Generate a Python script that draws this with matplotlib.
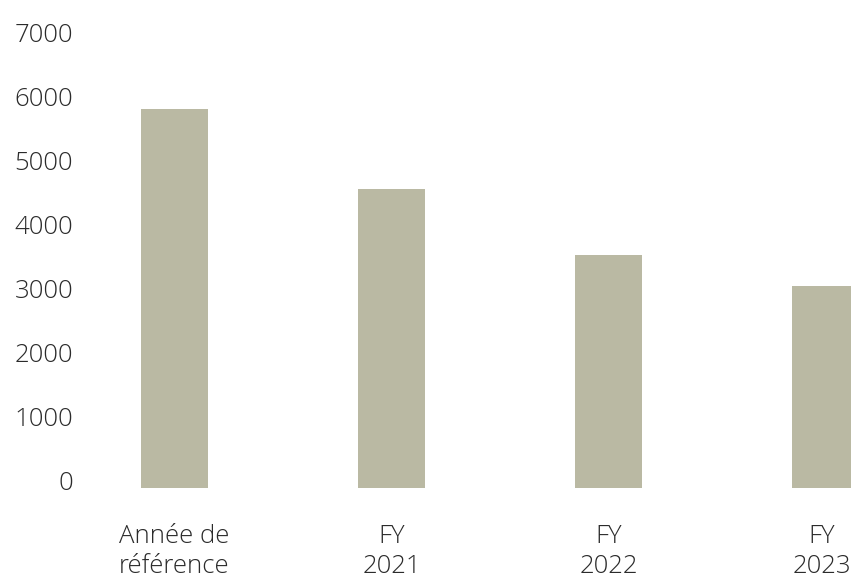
import numpy as np
import matplotlib.pyplot as plt
from matplotlib.transforms import ScaledTranslation

categories = ["Année de\nréférence", "FY\n2021", "FY\n2022", "FY\n2023"]
values = [5910, 4665, 3635, 3150]
yticks = [0, 1000, 2000, 3000, 4000, 5000, 6000, 7000]

plt.rcParams['font.family'] = ['Open Sans', 'DejaVu Sans']

fig = plt.figure(figsize=(8.51, 5.80), dpi=100)
# axes placed in pixel terms: left 80, bottom at y=488, top at y=39
ax = fig.add_axes([80/851, 92/580, 771/851, 448.7/580])

x = np.arange(len(categories))
ax.bar(x, values, width=0.313, color="#BAB9A3")

ax.set_xlim((80 - 174.5)/217, (851 - 174.5)/217)
ax.set_ylim(0, 7000)
ax.set_yticks(yticks)
ax.set_xticks(x)
ax.set_xticklabels(categories)

for s in ax.spines.values():
    s.set_visible(False)
ax.tick_params(axis="both", length=0, labelsize=18.5, labelcolor="#2b2b2b")
ax.tick_params(axis="y", pad=5)
ax.tick_params(axis="x", pad=26)

# tick labels sit a little above their values in the reference
off = ScaledTranslation(0, 7/100, fig.dpi_scale_trans)
for lab in ax.get_yticklabels():
    lab.set_transform(lab.get_transform() + off)
    lab.set_fontweight("light")
for lab in ax.get_xticklabels():
    lab.set_fontweight("light")
    lab.set_linespacing(1.25)
# last label nudged left so it stays inside the figure
last = ax.get_xticklabels()[-1]
last.set_transform(last.get_transform() + ScaledTranslation(-4/100, 0, fig.dpi_scale_trans))

fig.savefig("out.png", dpi=100)
